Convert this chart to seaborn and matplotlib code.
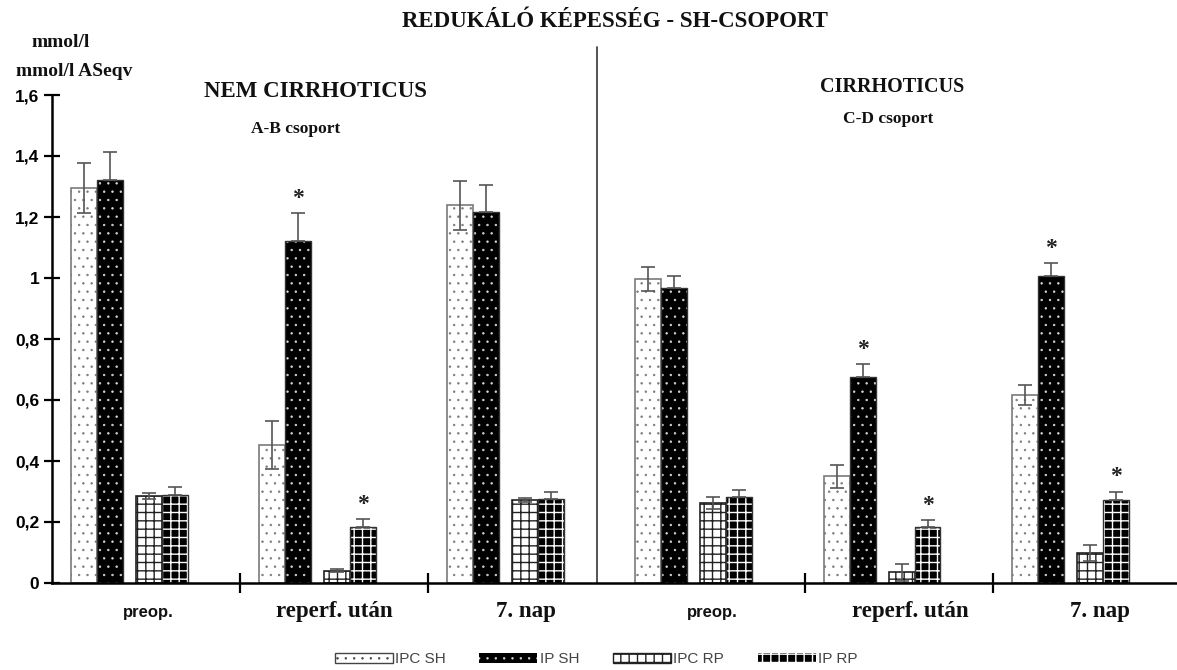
import numpy as np
import pandas as pd
import matplotlib
matplotlib.use("Agg")
import matplotlib.pyplot as plt
from matplotlib.patches import Patch
import seaborn as sns

# ---- data -------------------------------------------------------------
groups = ["preop.", "reperf. után", "7. nap", "preop.", "reperf. után", "7. nap"]
series = ["IPC SH", "IP SH", "IPC RP", "IP RP"]

ipc_sh = [1.295, 0.452, 1.239, 0.997, 0.350, 0.616]
ipc_sh_err = [0.082, 0.078, 0.080, 0.040, 0.037, 0.033]
ip_sh = [1.321, 1.121, 1.215, 0.967, 0.675, 1.007]
ip_sh_err = [0.092, 0.092, 0.090, 0.040, 0.043, 0.043]
ipc_rp = [0.285, 0.040, 0.272, 0.262, 0.035, 0.098]
ipc_rp_err = [0.010, 0.005, 0.008, 0.020, 0.027, 0.025]
ip_rp = [0.290, 0.184, 0.275, 0.282, 0.184, 0.272]
ip_rp_err = [0.025, 0.026, 0.025, 0.023, 0.022, 0.028]

# significant differences (series index, group index)
stars = [(1, 1), (3, 1), (1, 4), (3, 4), (1, 5), (3, 5)]

yticks = [0, 0.2, 0.4, 0.6, 0.8, 1.0, 1.2, 1.4, 1.6]
ytick_labels = ["0", "0,2", "0,4", "0,6", "0,8", "1", "1,2", "1,4", "1,6"]

# ---- style ------------------------------------------------------------
sns.set_style("white")
plt.rcParams["font.family"] = ["Liberation Serif", "DejaVu Serif"]
plt.rcParams["hatch.linewidth"] = 1.0

SERIF = "Liberation Serif"
SANS = "Liberation Sans"
DOT_LW = 0.5

W, H = 1177, 670
fig = plt.figure(figsize=(W / 100, H / 100), dpi=100)
group_px = 188.2
ax = fig.add_axes([52 / W, 87 / H, 1125 / W, 488 / H])

bar_w = 0.138
offsets = [0.169, 0.307, 0.514, 0.652]
values = [ipc_sh, ip_sh, ipc_rp, ip_rp]
errors = [ipc_sh_err, ip_sh_err, ipc_rp_err, ip_rp_err]
styles = [
    dict(face="white", hcolor="#7a7a7a", hatch="..", dark=False),
    dict(face="black", hcolor="#d8d8d8", hatch="..", dark=True),
    dict(face="white", hcolor="#222222", hatch="++", dark=False),
    dict(face="black", hcolor="white", hatch="++", dark=True),
]


def thin_dots(patches):
    for p in patches:
        h = p.get_hatch()
        if h and "." in h and hasattr(p, "set_hatch_linewidth"):
            p.set_hatch_linewidth(DOT_LW)


for k, (vals, errs, st) in enumerate(zip(values, errors, styles)):
    xs = [g + offsets[k] for g in range(len(groups))]
    df = pd.DataFrame({"x": xs, "y": vals})
    lw_h = DOT_LW if "." in st["hatch"] else 1.0
    with plt.rc_context({"hatch.linewidth": lw_h}):
        sns.barplot(data=df, x="x", y="y", native_scale=True, width=bar_w,
                    color=st["face"], saturation=1, errorbar=None,
                    hatch=st["hatch"], edgecolor=st["hcolor"],
                    linewidth=0 if st["dark"] else 1.2, ax=ax, zorder=2)
    if st["dark"]:
        # outline drawn separately so the hatch keeps its own colour
        sns.barplot(data=df, x="x", y="y", native_scale=True, width=bar_w,
                    color="#333333", fill=False, errorbar=None,
                    linewidth=1.0, ax=ax, zorder=2.5)
        yerr = [np.zeros(len(errs)), errs]
    else:
        yerr = errs
    ax.errorbar(xs, vals, yerr=yerr, fmt="none", ecolor="#555555",
                elinewidth=1.2, capsize=5, capthick=1.2, zorder=3)

thin_dots(ax.patches)

for k, g in stars:
    top = values[k][g] + errors[k][g]
    ax.text(g + offsets[k], top + 0.03, "*", ha="center", va="baseline",
            fontsize=17, fontweight="bold", family=SERIF, color="#222222")

# ---- axes -------------------------------------------------------------
ax.set_xlim(0, 1125 / group_px)
ax.set_ylim(0, 1.6)
ax.set_xlabel("")
ax.set_ylabel("")
for s in ["top", "right"]:
    ax.spines[s].set_visible(False)
for s in ["left", "bottom"]:
    ax.spines[s].set_color("black")
    ax.spines[s].set_linewidth(1.8)

ax.set_yticks(yticks)
ax.set_yticklabels(ytick_labels, family=SANS, fontweight="bold", fontsize=12.5)
ax.set_xticks([1, 2, 4, 5])
ax.set_xticklabels([])
ax.tick_params(axis="y", direction="inout", length=12, width=1.6, pad=3,
               left=True, colors="black")
ax.tick_params(axis="x", direction="inout", length=14, width=1.6,
               bottom=True, colors="black")

# divider between the two patient groups
div_x = (597 - 52) / group_px
ax.plot([div_x, div_x], [0, 1.757], color="#444444", lw=1.3, clip_on=False,
        zorder=1)

# group labels below the axis
label_x = [0.51, 1.50, 2.52, 3.51, 4.56, 5.57]
for gx, name in zip(label_x, groups):
    if name == "preop.":
        ax.text(gx, -0.11, name, ha="center", va="baseline", family=SANS,
                fontweight="bold", fontsize=12, color="#111111")
    else:
        ax.text(gx, -0.11, name, ha="center", va="baseline", family=SERIF,
                fontweight="bold", fontsize=16.5, color="#111111")

# ---- texts ------------------------------------------------------------
def ftext(px, py, s, size, family=SERIF, ha="center"):
    fig.text(px / W, 1 - py / H, s, ha=ha, va="baseline", family=family,
             fontweight="bold", fontsize=size, color="#111111")

ftext(615, 27, "REDUKÁLÓ KÉPESSÉG - SH-CSOPORT", 16.5)
ftext(316, 97, "NEM CIRRHOTICUS", 16.5)
ftext(296, 133, "A-B csoport", 12.5)
ftext(892, 92, "CIRRHOTICUS", 14.5)
ftext(888, 123, "C-D csoport", 12.5)
ftext(61, 47, "mmol/l", 14)
ftext(74, 76, "mmol/l ASeqv", 14)

# ---- legend -----------------------------------------------------------
with plt.rc_context({"hatch.linewidth": DOT_LW}):
    h_dots = [
        Patch(facecolor="white", edgecolor="#444444", hatch="..", linewidth=1.0),
        Patch(facecolor="black", edgecolor="#d8d8d8", hatch="..", linewidth=0),
    ]
h_grid = [
    Patch(facecolor="white", edgecolor="#222222", hatch="++", linewidth=1.0),
    Patch(facecolor="black", edgecolor="white", hatch="++", linewidth=0),
]
handles = [h_dots[0], h_dots[1], h_grid[0], h_grid[1]]
leg = fig.legend(handles, series, loc="center", bbox_to_anchor=(596 / W, 1 - 659 / H),
                 ncol=4, frameon=False, handlelength=3.8, handleheight=0.65,
                 handletextpad=0.15, columnspacing=2.2,
                 prop={"family": SANS, "size": 11})
for t in leg.get_texts():
    t.set_color("#444444")
thin_dots(leg.get_patches())

fig.savefig("out.png", dpi=100, facecolor="white")
